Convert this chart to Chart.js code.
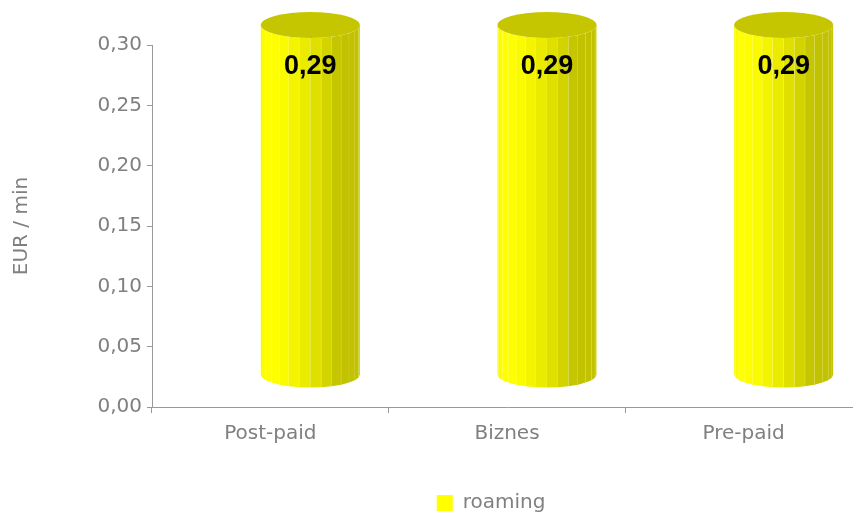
<!DOCTYPE html>
<html>
<head>
<meta charset="utf-8">
<script src="https://cdn.jsdelivr.net/npm/chart.js@4"></script>
<style>
  html, body { margin: 0; padding: 0; background: #fff; overflow: hidden; }
</style>
</head>
<body>
<canvas id="grafico" width="862" height="514"></canvas>
<script>
const kategorie = ["Post-paid", "Biznes", "Pre-paid"];
const roaming = [0.29, 0.29, 0.29];
const nazwaSerii = "roaming";
const tytulOsiY = "EUR / min";

const szary = "#808080";
const kreska = "#999999";
const glebiaX = 40;
const glebiaY = -20;

function przecinek(v) {
  return Number(v).toFixed(2).replace(".", ",");
}

// cylindry 3D zamiast zwyklych slupkow
const cylindry = {
  id: "cylindry",
  beforeDatasetDraw() {
    return false;
  },
  afterDatasetsDraw(chart) {
    const ctx = chart.ctx;
    const meta = chart.getDatasetMeta(0);
    meta.data.forEach((el, i) => {
      const rx = el.width / 2;
      const ry = 13;
      const cx = el.x + glebiaX;
      const top = el.y + glebiaY - 12;
      const dol = el.base + glebiaY - 12;
      const n = 14;
      ctx.save();
      for (let k = 0; k < n; k++) {
        const a0 = Math.PI - (k / n) * Math.PI;
        const a1 = Math.PI - ((k + 1) / n) * Math.PI;
        const mid = (a0 + a1) / 2;
        const b = 0.76 + 0.24 * Math.max(0, Math.cos(mid - 0.8 * Math.PI));
        const c = Math.round(255 * b);
        const x0 = cx + rx * Math.cos(a0), x1 = cx + rx * Math.cos(a1);
        const s0 = ry * Math.sin(a0), s1 = ry * Math.sin(a1);
        ctx.beginPath();
        ctx.moveTo(x0, top + s0);
        ctx.lineTo(x1, top + s1);
        ctx.lineTo(x1, dol + s1);
        ctx.lineTo(x0, dol + s0);
        ctx.closePath();
        ctx.fillStyle = `rgb(${c},${c},0)`;
        ctx.fill();
        ctx.strokeStyle = "rgba(255,255,200,0.35)";
        ctx.lineWidth = 0.6;
        ctx.beginPath();
        ctx.moveTo(x1, top + s1);
        ctx.lineTo(x1, dol + s1);
        ctx.stroke();
      }
      ctx.beginPath();
      ctx.ellipse(cx, top, rx, ry, 0, 0, Math.PI * 2);
      ctx.fillStyle = "#c6c600";
      ctx.fill();

      ctx.fillStyle = "#000";
      ctx.font = "bold 27px 'Liberation Sans', Arial, sans-serif";
      ctx.textAlign = "center";
      ctx.textBaseline = "middle";
      ctx.fillText(przecinek(chart.data.datasets[0].data[i]), cx, el.y + 9);
      ctx.restore();
    });
  }
};

new Chart(document.getElementById("grafico").getContext("2d"), {
  type: "bar",
  data: {
    labels: kategorie,
    datasets: [{
      label: nazwaSerii,
      data: roaming,
      backgroundColor: "#ffff00",
      borderWidth: 0,
      categoryPercentage: 0.8,
      barPercentage: 0.523
    }]
  },
  options: {
    responsive: false,
    animation: false,
    layout: { padding: { top: 45, left: 0, right: 0, bottom: -9 } },
    plugins: {
      tooltip: { enabled: false },
      legend: {
        position: "bottom",
        fullSize: false,
        labels: {
          boxWidth: 16,
          boxHeight: 16,
          color: szary,
          font: { family: "'DejaVu Sans'", size: 20 },
          // spacje na koncu przesuwaja legende w lewo jak w oryginale
          generateLabels: (chart) => Chart.defaults.plugins.legend.labels.generateLabels(chart)
            .map((l) => ({ ...l, text: l.text + "\u00a0\u00a0\u00a0\u00a0\u00a0" }))
        }
      }
    },
    scales: {
      x: {
        afterFit: (s) => { s.height = 76; },
        grid: { drawOnChartArea: false, tickLength: 6, color: kreska, offset: true },
        border: { color: kreska },
        ticks: { color: szary, padding: 9, font: { family: "'DejaVu Sans'", size: 20 } }
      },
      y: {
        min: 0,
        max: 0.30,
        afterFit: (s) => { s.width = 152; },
        grid: { drawOnChartArea: false, tickLength: 5, color: kreska },
        border: { color: kreska },
        title: {
          display: true,
          text: tytulOsiY,
          color: szary,
          padding: 10,
          font: { family: "'DejaVu Sans'", size: 20 }
        },
        ticks: {
          stepSize: 0.05,
          color: szary,
          padding: 5,
          font: { family: "'DejaVu Sans'", size: 20 },
          callback: (v) => przecinek(v)
        }
      }
    }
  },
  plugins: [cylindry]
});
</script>
</body>
</html>
